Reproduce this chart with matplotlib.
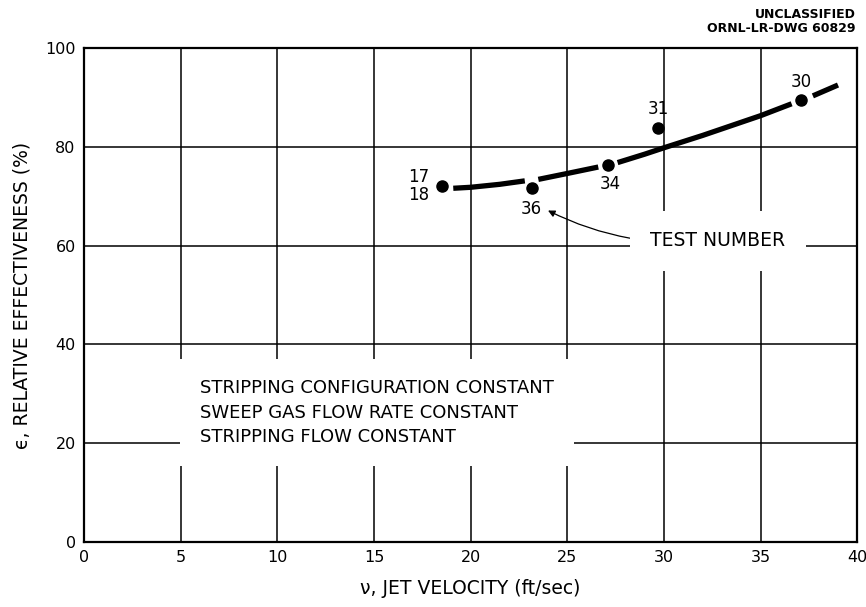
import matplotlib.pyplot as plt

# test points: label, jet velocity (ft/sec), relative effectiveness (%)
test_labels = ["17\n18", "36", "34", "31", "30"]
velocity = [18.5, 23.15, 27.1, 29.7, 37.1]
effectiveness = [72.0, 71.6, 76.4, 83.7, 89.5]

# hand-drawn curve, broken where it meets the dots
curve_segments = [
    ([19.1, 20.0, 21.5, 22.8], [71.6, 71.8, 72.4, 73.1]),
    ([23.5, 25.0, 26.6], [73.4, 74.6, 75.9]),
    ([27.6, 29.0, 30.0, 32.0, 35.0, 36.6], [76.8, 78.5, 79.8, 82.3, 86.3, 88.7]),
    ([37.7, 39.0], [90.3, 92.5]),
]

x_ticks = [0, 5, 10, 15, 20, 25, 30, 35, 40]
y_ticks = [0, 20, 40, 60, 80, 100]

notes = [
    "STRIPPING CONFIGURATION CONSTANT",
    "SWEEP GAS FLOW RATE CONSTANT",
    "STRIPPING FLOW CONSTANT",
]

plt.rcParams["font.family"] = ["DejaVu Sans"]

fig = plt.figure(figsize=(8.66, 6.07), dpi=100)
ax = fig.add_axes([0.097, 0.107, 0.893, 0.814])

ax.set_xlim(0, 40)
ax.set_ylim(0, 100)
ax.set_xticks(x_ticks)
ax.set_yticks(y_ticks)
ax.tick_params(length=0, labelsize=11.5, pad=6)
ax.grid(True, color="black", linewidth=1.1)
for sp in ax.spines.values():
    sp.set_linewidth(1.6)

for xs, ys in curve_segments:
    ax.plot(xs, ys, color="black", linewidth=3.8, solid_capstyle="butt", zorder=3)

ax.plot(velocity, effectiveness, "o", color="black", markersize=8, zorder=4)

# labels next to the dots
offsets = [(-9, 0), (0, -15), (2, -14), (0, 14), (0, 13)]
has = ["right", "center", "center", "center", "center"]
for lab, x, y, off, ha in zip(test_labels, velocity, effectiveness, offsets, has):
    ax.annotate(lab, (x, y), xytext=off, textcoords="offset points",
                ha=ha, va="center", fontsize=12, linespacing=1.0, zorder=5)

# test number callout
ax.annotate("TEST NUMBER", xy=(24.0, 67.1), xytext=(29.3, 61.0),
            ha="left", va="center", fontsize=13.5, zorder=5,
            bbox=dict(boxstyle="square,pad=1.1", fc="white", ec="none"),
            arrowprops=dict(arrowstyle="-|>", color="black", lw=0.9,
                            shrinkA=0, shrinkB=0, mutation_scale=10,
                            connectionstyle="arc3,rad=-0.15"))

ax.text(6.0, 26.2, "\n".join(notes), ha="left", va="center", fontsize=13,
        linespacing=1.45, zorder=5,
        bbox=dict(boxstyle="square,pad=1.1", fc="white", ec="none"))

ax.set_xlabel("ν, JET VELOCITY (ft/sec)", fontsize=13.5, labelpad=10)
ax.set_ylabel("ϵ, RELATIVE EFFECTIVENESS (%)", fontsize=13.5, labelpad=10)

fig.text(0.988, 0.965, "UNCLASSIFIED\nORNL-LR-DWG 60829", ha="right", va="center",
         fontsize=9, fontweight="bold", linespacing=1.1)

fig.savefig("out.png", dpi=100)
